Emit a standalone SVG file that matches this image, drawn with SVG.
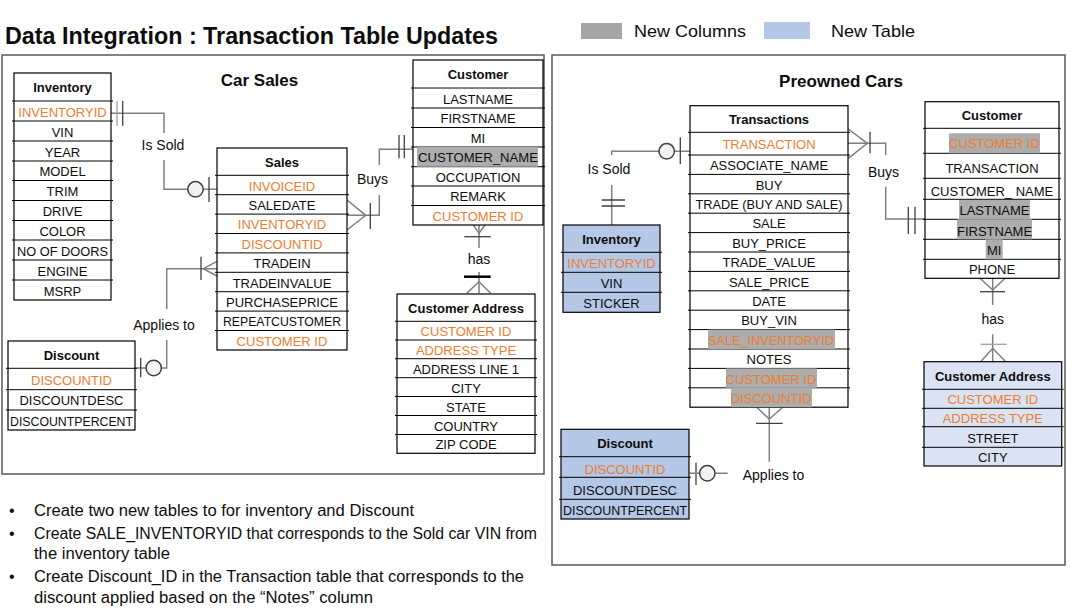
<svg xmlns="http://www.w3.org/2000/svg" width="1072" height="613" viewBox="0 0 1072 613">
<style>
text{font-family:"Liberation Sans",Arial,sans-serif;fill:#0D0D0D}
.t{font-size:13px;text-anchor:middle}
.h{font-weight:bold}
.o{fill:#ED7D31}
.hl{fill:#ADADAD}
.tb{fill:#fff;stroke:#000;stroke-width:1.2}
.tbb{fill:#B4C7E7;stroke:#000;stroke-width:1.2}
.tbl{fill:#DAE3F3;stroke:#000;stroke-width:1.2}
.ln{stroke:#000;stroke-width:1;fill:none}
.cn{stroke:#7F7F7F;stroke-width:1.5;fill:none}
.tk{stroke:#404040;stroke-width:1.3;fill:none}
.ci{fill:#F2F2F2;stroke:#404040;stroke-width:1.5}
.lb{font-size:14px;text-anchor:middle}
.bx{fill:none;stroke:#595959;stroke-width:1.5}
.bl{font-size:16px}
</style>
<rect width="1072" height="613" fill="#fff"/>

<text x="5" y="44" font-size="23" font-weight="bold" textLength="493" lengthAdjust="spacingAndGlyphs">Data Integration : Transaction Table Updates</text>
<g id="legend">
<rect x="581" y="23" width="41" height="16" fill="#A6A6A6"/>
<text x="634" y="37" font-size="17" textLength="112" lengthAdjust="spacingAndGlyphs">New Columns</text>
<rect x="764" y="22" width="46" height="17" fill="#B4C7E7"/>
<text x="831" y="37" font-size="17" textLength="84" lengthAdjust="spacingAndGlyphs">New Table</text>
</g>

<rect class="bx" x="2" y="55" width="542" height="419"/>
<rect class="bx" x="552" y="55" width="513" height="510"/>
<text x="259.5" y="86" font-size="17" font-weight="bold" text-anchor="middle">Car Sales</text>
<text x="841" y="87" font-size="17" font-weight="bold" text-anchor="middle">Preowned Cars</text>

<g id="connectors">
<!-- Left: Is Sold -->
<path class="cn" d="M111,113.3H164V133M164,160V189.3H187.8M203.2,189.3H217"/>
<circle class="ci" cx="195.5" cy="189.3" r="7.7"/>
<path class="tk" d="M209,177V202"/>
<path d="M117,101V125.7" stroke="#A0A0A0" stroke-width="1.3"/>
<path class="tk" d="M122.7,101V125.7"/>
<text class="lb" x="163" y="150">Is Sold</text>
<!-- Left: Buys -->
<path class="cn" d="M347,215.3H379.3V195M379.3,165V149.3H413"/>
<path class="cn" d="M347,200L365.7,215.3L347,230"/>
<path class="tk" d="M370.3,203V229M399,135V158.3M404.3,135V158.3"/>
<text class="lb" x="372.5" y="184">Buys</text>
<!-- Left: has -->
<path class="cn" d="M479,225V248M479,272V293.3"/>
<path class="cn" d="M473.3,225L479,233.3L485,225"/>
<path class="tk" d="M464.3,236.7H490.7"/>
<path d="M464,276.7H490.7" stroke="#000" stroke-width="2.5"/>
<path class="cn" d="M466.7,293.3L479,281.7L490.7,293.3"/>
<text class="lb" x="479" y="264">has</text>
<!-- Left: Applies to -->
<path class="cn" d="M217,268.7H166.7V309M166.7,340V368H161.4M146,368H135"/>
<path class="cn" d="M217,261.3L203.3,268.7L217,276"/>
<path class="tk" d="M201,256.7V280M140.7,357.7V377.3"/>
<circle class="ci" cx="153.7" cy="368" r="7.7"/>
<text class="lb" x="164" y="330">Applies to</text>

<!-- Right: Is Sold -->
<path class="cn" d="M690,151.3H674.4M659,151.3H611.7V155M611.7,185V225"/>
<circle class="ci" cx="666.7" cy="151.3" r="7.7"/>
<path class="tk" d="M680.3,137.3V164.3M601.7,200H625M601.7,206H625"/>
<text class="lb" x="609" y="174.3">Is Sold</text>
<!-- Right: Buys -->
<path class="cn" d="M848,143.3H885.7V155M885.7,186.7V219H925.3"/>
<path class="cn" d="M848.3,129L867.3,143.3L848.3,158.3"/>
<path class="tk" d="M870,131.7V153.3M908.3,206.7V234M915,206.7V234"/>
<text class="lb" x="883.5" y="177">Buys</text>
<!-- Right: has -->
<path class="cn" d="M992.7,278.3V305M992.7,334.3V361.7"/>
<path class="cn" d="M980,278.3L992.7,290L1005,278.3"/>
<path class="tk" d="M980,291.7H1005"/>
<path d="M980.7,344.3H1006.7" stroke="#A0A0A0" stroke-width="1.3"/>
<path class="cn" d="M980.7,361.7L992.7,348.3L1005.7,361.7"/>
<text class="lb" x="992.7" y="324.3">has</text>
<!-- Right: Applies to -->
<path class="cn" d="M769.3,407.2V461.7"/>
<path class="cn" d="M756.7,407.2L769.3,419L782.7,407.2"/>
<path class="tk" d="M756,423.3H782.7M696,462.7V485"/>
<path class="cn" d="M689.3,473.3H699.6M715,473.3H727.7"/>
<circle class="ci" cx="707.3" cy="473.3" r="7.7"/>
<text class="lb" x="773.5" y="480">Applies to</text>
</g>

<g id="inventory-left">
<rect class="tb" x="14" y="73" width="97" height="227"/>
<path class="ln" d="M12,101H113M12,121H113M12,141H113M12,161H113M12,180.5H113M12,200.5H113M12,220.5H113M12,240H113M12,260H113M12,280H113"/>
<text class="t h" x="62.5" y="92">Inventory</text>
<text class="t o" x="62.5" y="116.5">INVENTORYID</text>
<text class="t" x="62.5" y="136.5">VIN</text>
<text class="t" x="62.5" y="156.5">YEAR</text>
<text class="t" x="62.5" y="176.3">MODEL</text>
<text class="t" x="62.5" y="196">TRIM</text>
<text class="t" x="62.5" y="216">DRIVE</text>
<text class="t" x="62.5" y="235.8">COLOR</text>
<text class="t" x="62.5" y="255.5" textLength="91" lengthAdjust="spacingAndGlyphs">NO OF DOORS</text>
<text class="t" x="62.5" y="275.5">ENGINE</text>
<text class="t" x="62.5" y="295.5">MSRP</text>
</g>

<g id="sales">
<rect class="tb" x="217" y="148" width="130" height="202"/>
<path class="ln" d="M215,175.3H349M215,194.7H349M215,214.1H349M215,233.5H349M215,252.9H349M215,272.3H349M215,291.7H349M215,311.1H349M215,330.5H349"/>
<text class="t h" x="282" y="166.7">Sales</text>
<text class="t o" x="282" y="190.5">INVOICEID</text>
<text class="t" x="282" y="209.9">SALEDATE</text>
<text class="t o" x="282" y="229.3">INVENTORYID</text>
<text class="t o" x="282" y="248.7">DISCOUNTID</text>
<text class="t" x="282" y="268.1">TRADEIN</text>
<text class="t" x="282" y="287.5">TRADEINVALUE</text>
<text class="t" x="282" y="306.9">PURCHASEPRICE</text>
<text class="t" x="282" y="326.3" textLength="118" lengthAdjust="spacingAndGlyphs">REPEATCUSTOMER</text>
<text class="t o" x="282" y="345.8">CUSTOMER ID</text>
</g>

<g id="customer-left">
<rect class="tb" x="413" y="60" width="130" height="165"/>
<path class="ln" d="M411,88H545M411,108H545M411,127.5H545M411,147H545M411,166.7H545M411,186H545M411,205.5H545"/>
<rect class="hl" x="417" y="147" width="121" height="19.7"/>
<text class="t h" x="478" y="79">Customer</text>
<text class="t" x="478" y="103.5">LASTNAME</text>
<text class="t" x="478" y="123.3">FIRSTNAME</text>
<text class="t" x="478" y="142.8">MI</text>
<text class="t" x="478" y="162.4" textLength="120" lengthAdjust="spacingAndGlyphs">CUSTOMER_NAME</text>
<text class="t" x="478" y="181.9">OCCUPATION</text>
<text class="t" x="478" y="201.3">REMARK</text>
<text class="t o" x="478" y="220.8">CUSTOMER ID</text>
</g>

<g id="customer-address-left">
<rect class="tb" x="397" y="294" width="138" height="159.3"/>
<path class="ln" d="M395,321.3H537M395,340H537M395,358.7H537M395,377.7H537M395,396.5H537M395,415.5H537M395,434.5H537"/>
<text class="t h" x="466" y="312.7">Customer Address</text>
<text class="t o" x="466" y="336.2">CUSTOMER ID</text>
<text class="t o" x="466" y="354.9">ADDRESS TYPE</text>
<text class="t" x="466" y="373.7">ADDRESS LINE 1</text>
<text class="t" x="466" y="392.6">CITY</text>
<text class="t" x="466" y="411.5">STATE</text>
<text class="t" x="466" y="430.5">COUNTRY</text>
<text class="t" x="466" y="449.4">ZIP CODE</text>
</g>

<g id="discount-left">
<rect class="tb" x="8" y="341" width="127" height="89"/>
<path class="ln" d="M6,368.3H137M6,389.7H137M6,410H137"/>
<text class="t h" x="71.5" y="359.7">Discount</text>
<text class="t o" x="71.5" y="384.5">DISCOUNTID</text>
<text class="t" x="71.5" y="405.4">DISCOUNTDESC</text>
<text class="t" x="71.5" y="425.5" textLength="123" lengthAdjust="spacingAndGlyphs">DISCOUNTPERCENT</text>
</g>

<g id="transactions">
<rect class="tb" x="690" y="105.7" width="158" height="301.5"/>
<path class="ln" d="M688,132.3H850M688,155H850M688,174.4H850M688,193.8H850M688,213.2H850M688,232.6H850M688,252H850M688,271.4H850M688,290.8H850M688,310.2H850M688,329.6H850M688,349H850M688,368.4H850M688,387.8H850"/>
<rect class="hl" x="708" y="329.6" width="127" height="19.4"/>
<rect class="hl" x="726" y="368.4" width="91" height="19.4"/>
<rect class="hl" x="731" y="387.8" width="81" height="19.4"/>
<text class="t h" x="769" y="124">Transactions</text>
<text class="t o" x="769" y="149.2">TRANSACTION</text>
<text class="t" x="769" y="170.2">ASSOCIATE_NAME</text>
<text class="t" x="769" y="189.6">BUY</text>
<text class="t" x="769" y="209" textLength="147" lengthAdjust="spacingAndGlyphs">TRADE (BUY AND SALE)</text>
<text class="t" x="769" y="228.4">SALE</text>
<text class="t" x="769" y="247.8">BUY_PRICE</text>
<text class="t" x="769" y="267.2">TRADE_VALUE</text>
<text class="t" x="769" y="286.6">SALE_PRICE</text>
<text class="t" x="769" y="306">DATE</text>
<text class="t" x="769" y="325.4">BUY_VIN</text>
<text class="t o" x="771" y="344.8" textLength="126" lengthAdjust="spacingAndGlyphs">SALE_INVENTORYID</text>
<text class="t" x="769" y="364.2">NOTES</text>
<text class="t o" x="771" y="383.6">CUSTOMER ID</text>
<text class="t o" x="771" y="403">DISCOUNTID</text>
</g>

<g id="inventory-right">
<rect class="tbb" x="563" y="225" width="97" height="87.3"/>
<path class="ln" d="M561,252.3H662M561,272.3H662M561,292.3H662"/>
<text class="t h" x="611.5" y="243.7">Inventory</text>
<text class="t o" x="611.5" y="267.8">INVENTORYID</text>
<text class="t" x="611.5" y="287.8">VIN</text>
<text class="t" x="611.5" y="307.8">STICKER</text>
</g>

<g id="customer-right">
<rect class="tb" x="925" y="101.7" width="134" height="176.6"/>
<path class="ln" d="M923,128.3H1061M923,153.3H1061M923,178.3H1061M923,199.3H1061M923,219.3H1061M923,239.3H1061M923,259.3H1061"/>
<rect class="hl" x="949" y="133.3" width="91" height="20"/>
<rect class="hl" x="959" y="200" width="71" height="19.3"/>
<rect class="hl" x="957" y="219.3" width="75" height="20"/>
<rect class="hl" x="985.7" y="239.3" width="17" height="20"/>
<text class="t h" x="992" y="120">Customer</text>
<text class="t o" x="994.5" y="148.3">CUSTOMER ID</text>
<text class="t" x="992" y="173.3">TRANSACTION</text>
<text class="t" x="992" y="196">CUSTOMER_ NAME</text>
<text class="t" x="994.5" y="215">LASTNAME</text>
<text class="t" x="994.5" y="236">FIRSTNAME</text>
<text class="t" x="994.2" y="255">MI</text>
<text class="t" x="992" y="274.3">PHONE</text>
</g>

<g id="customer-address-right">
<rect class="tbl" x="924" y="361.7" width="137.7" height="104.3"/>
<path class="ln" d="M922,389.3H1063.7M922,408.3H1063.7M922,426.7H1063.7M922,447.3H1063.7"/>
<text class="t h" x="992.8" y="381">Customer Address</text>
<text class="t o" x="992.8" y="403.8">CUSTOMER ID</text>
<text class="t o" x="992.8" y="423">ADDRESS TYPE</text>
<text class="t" x="992.8" y="442.8">STREET</text>
<text class="t" x="992.8" y="462">CITY</text>
</g>

<g id="discount-right">
<rect class="tbb" x="561" y="429.3" width="128" height="89.7"/>
<path class="ln" d="M559,456.7H691M559,477.3H691M559,499.3H691"/>
<text class="t h" x="625" y="448">Discount</text>
<text class="t o" x="625" y="473.5">DISCOUNTID</text>
<text class="t" x="625" y="494.8">DISCOUNTDESC</text>
<text class="t" x="625" y="514.5" textLength="124" lengthAdjust="spacingAndGlyphs">DISCOUNTPERCENT</text>
</g>

<g id="notes">
<text class="bl" x="9" y="516">•</text>
<text class="bl" x="34" y="516" textLength="380" lengthAdjust="spacingAndGlyphs">Create two new tables to for inventory and Discount</text>
<text class="bl" x="9" y="539">•</text>
<text class="bl" x="34" y="539" textLength="503" lengthAdjust="spacingAndGlyphs">Create SALE_INVENTORYID that corresponds to the Sold car VIN from</text>
<text class="bl" x="34" y="559" textLength="136" lengthAdjust="spacingAndGlyphs">the inventory table</text>
<text class="bl" x="9" y="582">•</text>
<text class="bl" x="34" y="582" textLength="490" lengthAdjust="spacingAndGlyphs">Create Discount_ID in the Transaction table that corresponds to the</text>
<text class="bl" x="34" y="603" textLength="339" lengthAdjust="spacingAndGlyphs">discount applied based on the “Notes” column</text>
</g>
</svg>
